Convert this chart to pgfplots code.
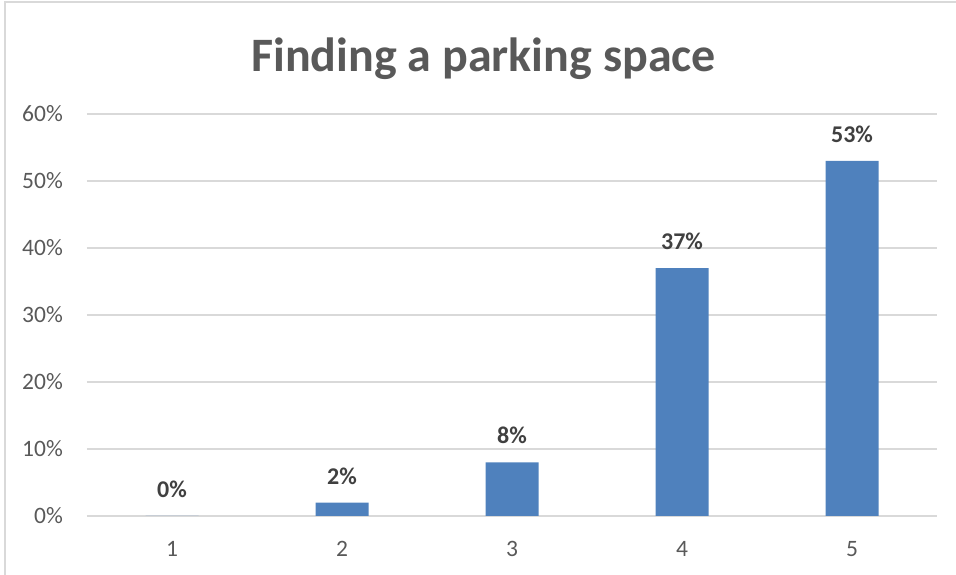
\documentclass[border=0pt]{standalone}
\usepackage{pgfplots}
\pgfplotsset{compat=1.18}
\usepackage{fontspec}
\setmainfont{Carlito}
\definecolor{barblue}{HTML}{4F81BD}
\definecolor{gridgray}{HTML}{D9D9D9}
\definecolor{ticktext}{HTML}{595959}
\definecolor{labeltext}{HTML}{404040}
\begin{document}
\begin{tikzpicture}[x=1pt,y=1pt]
\useasboundingbox (0,0) rectangle (956,575);
\draw[gridgray, line width=1.2pt] (5,0) -- (5,573) -- (956,573);
\node[font=\fontsize{48}{56}\selectfont\bfseries, text=ticktext, anchor=base, inner sep=0pt] at (483.5,503) {Finding a parking space};
\begin{axis}[
  at={(87pt,59pt)}, anchor=south west,
  scale only axis, width=850pt, height=402pt,
  xmin=0.5, xmax=5.5, ymin=0, ymax=60,
  ybar, bar width=53pt,
  axis line style={draw=none},
  major tick length=0pt,
  xtick={1,2,3,4,5},
  ytick={0,10,20,30,40,50,60},
  ymajorgrids,
  grid style={gridgray, line width=1.5pt},
  /pgf/number format/assume math mode=true,
  yticklabel={\pgfmathprintnumber{\tick}\%},
  ticklabel style={font=\fontsize{23.5}{28}\selectfont, text=ticktext, inner sep=0pt},
  xticklabel style={anchor=north, yshift=-25pt},
  yticklabel style={anchor=east, xshift=-24pt},
  nodes near coords={\pgfmathprintnumber{\pgfplotspointmeta}\%},
  point meta=y,
  every node near coord/.append style={font=\fontsize{24}{28}\selectfont\bfseries, text=labeltext, anchor=south, inner sep=0pt, yshift=18pt},
]
\addplot[fill=barblue, draw=none] coordinates {(1,0) (2,2) (3,8) (4,37) (5,53)};
\end{axis}
\end{tikzpicture}
\end{document}
